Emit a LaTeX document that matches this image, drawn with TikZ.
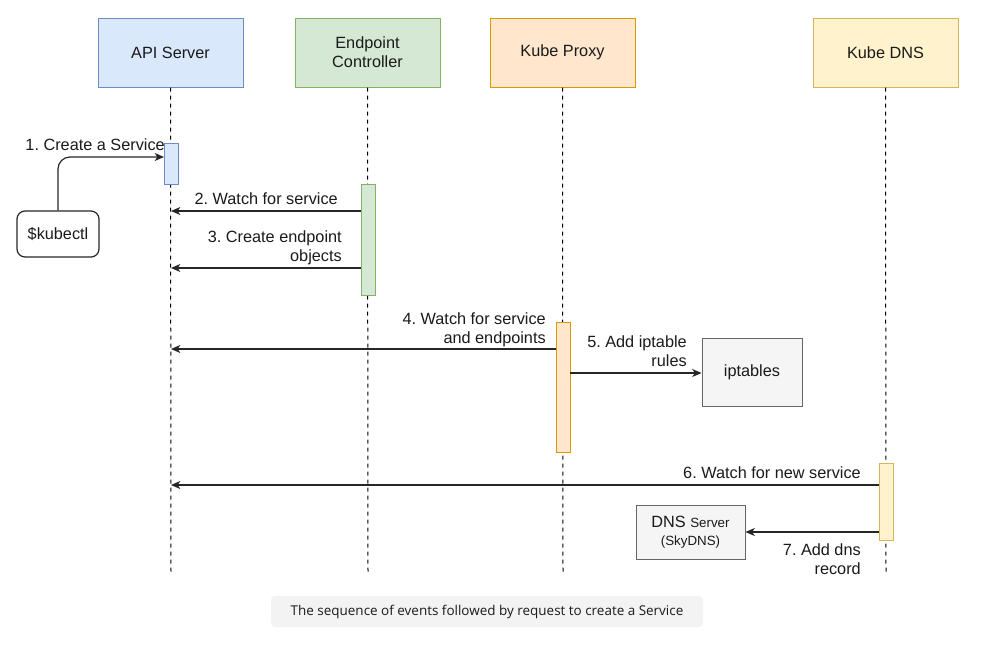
\documentclass[tikz,border=0pt]{standalone}
\usepackage{fontspec}
\setmainfont{Liberation Sans}
\newfontfamily\capfont{Open Sans}
\usetikzlibrary{arrows.meta}
\definecolor{bluef}{HTML}{DAE8FC}\definecolor{blued}{HTML}{6C8EBF}
\definecolor{greenf}{HTML}{D5E8D4}\definecolor{greend}{HTML}{82B366}
\definecolor{orangef}{HTML}{FFE6CC}\definecolor{oranged}{HTML}{D79B00}
\definecolor{yellowf}{HTML}{FFF2CC}\definecolor{yellowd}{HTML}{D6B656}
\definecolor{greyf}{HTML}{F5F5F5}\definecolor{greyd}{HTML}{666666}
\definecolor{capbg}{HTML}{F3F3F3}
\definecolor{txt}{HTML}{1A1A1A}
\frenchspacing
\begin{document}
\begin{tikzpicture}[x=0.75pt,y=-0.75pt,
  every node/.style={font=\fontsize{12.2}{14.25}\selectfont, text=txt},
  head/.style={draw=#1d, fill=#1f, line width=0.75pt, minimum width=108.75pt, minimum height=51.75pt, align=center, inner sep=0pt},
  act/.style={draw=#1d, fill=#1f, line width=0.75pt},
  life/.style={draw=black, line width=0.75pt, dash pattern=on 3pt off 3pt},
  msg/.style={draw=black!85, line width=0.9pt, -{Stealth[length=7pt,width=6pt,inset=2pt]}},
  lbl/.style={align=right, inner sep=0pt},
  gbox/.style={draw=greyd, fill=greyf, line width=0.7pt, align=center, inner sep=0pt}
]
\useasboundingbox (0,0) rectangle (983,644);
% heads
\node[head=blue] (api) at (170.5,52.5) {API Server};
\node[head=green] (ec) at (367.5,52.5) {Endpoint\\Controller};
\node[head=orange] (kp) at (562.5,52.5) {Kube Proxy};
\node[head=yellow] (dns) at (885.5,52.5) {Kube DNS};
% lifeline ends
\coordinate (apiE) at (171,572);
\coordinate (ecE) at (368,572);
\coordinate (kpE) at (563,572);
\coordinate (dnsE) at (886,572);
\draw[life] (api.south) -- (apiE);
\draw[life] (ec.south) -- (ecE);
\draw[life] (kp.south) -- (kpE);
\draw[life] (dns.south) -- (dnsE);
% activations
\draw[act=blue] (164,143) rectangle (178,184);
\draw[act=green] (361,184) rectangle (375,295);
\draw[act=orange] (556,322) rectangle (570,452);
\draw[act=yellow] (879,463) rectangle (893,540);
% kubectl
\node[draw=black!85, line width=0.9pt, rounded corners=6pt, minimum width=61.5pt, minimum height=34.5pt, inner sep=0pt] (kub) at (58,234) {\$kubectl};
\coordinate (a1) at (164,157);
\draw[msg, rounded corners=9pt] (kub.north) |- (a1);
\node[lbl, anchor=south east] at (165,151) {1. Create a Service};
% arrow 2
\coordinate (s2) at (361,211); \coordinate (e2) at (171,211);
\draw[msg] (s2) -- (e2);
\node[lbl, anchor=south east] at (338,205) {2. Watch for service};
% arrow 3
\coordinate (s3) at (361,268); \coordinate (e3) at (171,268);
\draw[msg] (s3) -- (e3);
\node[lbl, anchor=south east] at (342,265) {3. Create endpoint\\objects};
% arrow 4
\coordinate (s4) at (556,349); \coordinate (e4) at (171,349);
\draw[msg] (s4) -- (e4);
\node[lbl, anchor=south east] at (546,347) {4. Watch for service\\and endpoints};
% iptables
\node[gbox, minimum width=75pt, minimum height=51pt] (ipt) at (752,372) {iptables};
\coordinate (s5) at (570,373);
\draw[msg] (s5) -- (ipt.west |- s5);
\node[lbl, anchor=south east] at (687,367) {5. Add iptable\\rules};
% arrow 6
\coordinate (s6) at (879,485); \coordinate (e6) at (171,485);
\draw[msg] (s6) -- (e6);
\node[lbl, anchor=south east] at (861,479) {6. Watch for new service};
% DNS server
\node[gbox, minimum width=81.75pt, minimum height=40.5pt] (dsrv) at (690.5,532) {DNS {\fontsize{10}{12}\selectfont Server}\\[-1pt]{\fontsize{10}{12}\selectfont (SkyDNS)}};
\coordinate (s7) at (879,532);
\draw[msg] (s7) -- (dsrv.east |- s7);
\node[lbl, anchor=north east] at (861,543) {7. Add dns\\record};
% caption
\node[fill=capbg, rounded corners=3pt, minimum width=324pt, minimum height=23.25pt, inner sep=0pt, font=\capfont\fontsize{10.1}{12}\selectfont] (cap) at (487,611.5) {The sequence of events followed by request to create a Service};
\end{tikzpicture}
\end{document}
